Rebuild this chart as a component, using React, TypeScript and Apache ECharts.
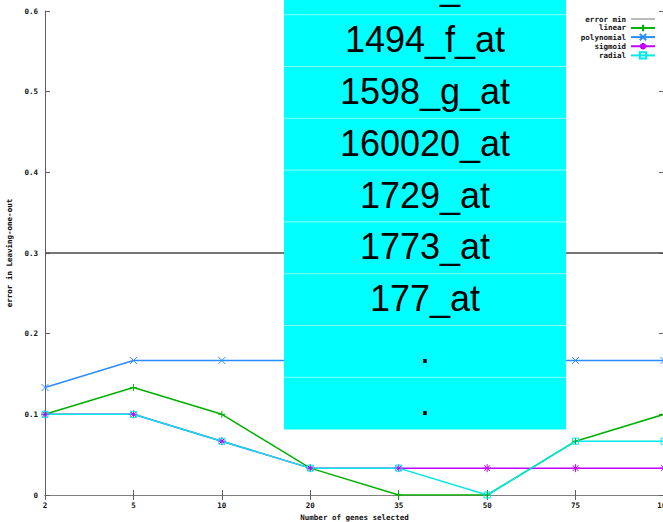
import React, { useEffect, useRef } from "react";
import * as echarts from "echarts";

// Number of genes selected (x categories)
const categories = ["2", "5", "10", "20", "35", "50", "75", "100"];

// Leave-one-out error per kernel
const errorMin = [0.3, 0.3, 0.3, 0.3, 0.3, 0.3, 0.3, 0.3];
const linear = [0.1, 0.1333, 0.1, 0.0333, 0, 0, 0.0667, 0.1];
const polynomial = [0.1333, 0.1667, 0.1667, 0.1667, 0.1667, 0.1667, 0.1667, 0.1667];
const sigmoid = [0.1, 0.1, 0.0667, 0.0333, 0.0333, 0.0333, 0.0333, 0.0333];
const radial = [0.1, 0.1, 0.0667, 0.0333, 0.0333, 0, 0.0667, 0.0667];

// Gene list shown in the overlay panel
const geneLabels = ["1450_at", "1494_f_at", "1598_g_at", "160020_at", "1729_at", "1773_at", "177_at", ".", "."];

const axisFont = {
  fontFamily: "DejaVu Sans Mono",
  fontWeight: "bold" as const,
  fontSize: 7.5,
  color: "#111",
};

const PLUS = "path://M0,5L10,5M5,0L5,10";
const CROSS = "path://M1,1L9,9M9,1L1,9";
const STAR = "path://M0,5L10,5M5,0L5,10M1.5,1.5L8.5,8.5M8.5,1.5L1.5,8.5";
// thin horizontal bar inside a 24x8 box, used as a plain line legend key
const PLAIN_LINE = "path://M0,0M24,8M0,3.2L24,3.2L24,4.8L0,4.8Z";

function lineSeries(name: string, data: number[], color: string, symbol: string, extra: any = {}) {
  return {
    name,
    type: "line",
    data,
    xAxisIndex: 0,
    yAxisIndex: 0,
    symbol,
    symbolSize: 7,
    lineStyle: { color, width: 1.5 },
    itemStyle: { color, borderColor: color, borderWidth: 1 },
    emphasis: { disabled: true },
    ...extra,
  };
}

export default function App() {
  const ref = useRef<HTMLDivElement>(null);

  useEffect(() => {
    if (!ref.current) return;
    const chart = echarts.init(ref.current, undefined, { renderer: "svg" });

    // Overlay panel with gene names
    const panelX = 284;
    const panelW = 282;
    const rowH = 51.8;
    const firstRowTop = 14.7 - rowH;
    const panelBottom = 429.5;
    const panel: any[] = [
      {
        type: "rect",
        shape: { x: panelX, y: 0, width: panelW, height: panelBottom },
        style: { fill: "#00ffff" },
        z: 100,
      },
    ];
    geneLabels.forEach((label, i) => {
      const top = firstRowTop + i * rowH;
      if (i > 0) {
        panel.push({
          type: "line",
          shape: { x1: panelX, y1: top, x2: panelX + panelW, y2: top },
          style: { stroke: "rgba(255,255,255,0.55)", lineWidth: 1 },
          z: 101,
        });
      }
      panel.push({
        type: "text",
        x: panelX + panelW / 2,
        y: top + rowH / 2 - 1,
        style: {
          text: label,
          fontFamily: "Liberation Sans",
          fontSize: 36,
          fill: "#000",
          align: "center",
          verticalAlign: "middle",
        },
        z: 102,
      });
    });

    chart.setOption({
      animation: false,
      backgroundColor: "#fff",
      grid: { left: 45, right: -1, top: 11, bottom: 27, containLabel: false, outerBoundsMode: "none" },
      legend: {
        orient: "vertical",
        right: 7,
        top: 15,
        padding: 0,
        align: "right",
        itemWidth: 24,
        itemHeight: 8,
        itemGap: 0.75,
        textStyle: { ...axisFont, fontSize: 7.5, lineHeight: 8 },
        data: [{ name: "error min", icon: PLAIN_LINE }, "linear", "polynomial", "sigmoid", "radial"],
      },
      xAxis: [
        {
          type: "category",
          data: categories,
          boundaryGap: false,
          name: "Number of genes selected",
          nameLocation: "middle",
          nameGap: 18,
          nameTextStyle: axisFont,
          axisLine: { lineStyle: { color: "#606060", width: 1 } },
          axisTick: { inside: true, length: 5, lineStyle: { color: "#606060" } },
          axisLabel: { ...axisFont, margin: 6 },
          splitLine: { show: false },
        },
        {
          type: "category",
          data: categories,
          boundaryGap: false,
          position: "top",
          axisLine: { lineStyle: { color: "#808080", width: 1 } },
          axisTick: { inside: true, length: 5, lineStyle: { color: "#606060" } },
          axisLabel: { show: false },
          splitLine: { show: false },
        },
      ],
      yAxis: [
        {
          type: "value",
          min: 0,
          max: 0.6,
          interval: 0.1,
          name: "error in Leaving-one-out",
          nameLocation: "middle",
          nameGap: 31,
          nameTextStyle: axisFont,
          axisLine: { show: true, lineStyle: { color: "#606060", width: 1 } },
          axisTick: { show: true, inside: true, length: 5, lineStyle: { color: "#606060" } },
          axisLabel: { ...axisFont, margin: 7 },
          splitLine: { show: false },
        },
        {
          type: "value",
          min: 0,
          max: 0.6,
          interval: 0.1,
          position: "right",
          axisLine: { show: true, lineStyle: { color: "#606060", width: 1 } },
          axisTick: { show: true, inside: true, length: 5, lineStyle: { color: "#606060" } },
          axisLabel: { show: false },
          splitLine: { show: false },
        },
      ],
      series: [
        lineSeries("error min", errorMin, "#4a4a4a", "none", {
          showSymbol: false,
          itemStyle: { color: "#a8a8a8", borderWidth: 0 },
        }),
        lineSeries("linear", linear, "#00b000", PLUS),
        lineSeries("polynomial", polynomial, "#2a8cff", CROSS),
        lineSeries("sigmoid", sigmoid, "#c000ff", STAR, { symbolSize: 8 }),
        lineSeries("radial", radial, "#00e8e8", "rect", {
          symbolSize: 6,
          itemStyle: { color: "rgba(0,0,0,0)", borderColor: "#00e8e8", borderWidth: 1 },
        }),
      ],
      graphic: panel,
    });

    return () => chart.dispose();
  }, []);

  return <div ref={ref} style={{ width: 663, height: 522, position: "absolute", left: 0, top: 0 }} />;
}
